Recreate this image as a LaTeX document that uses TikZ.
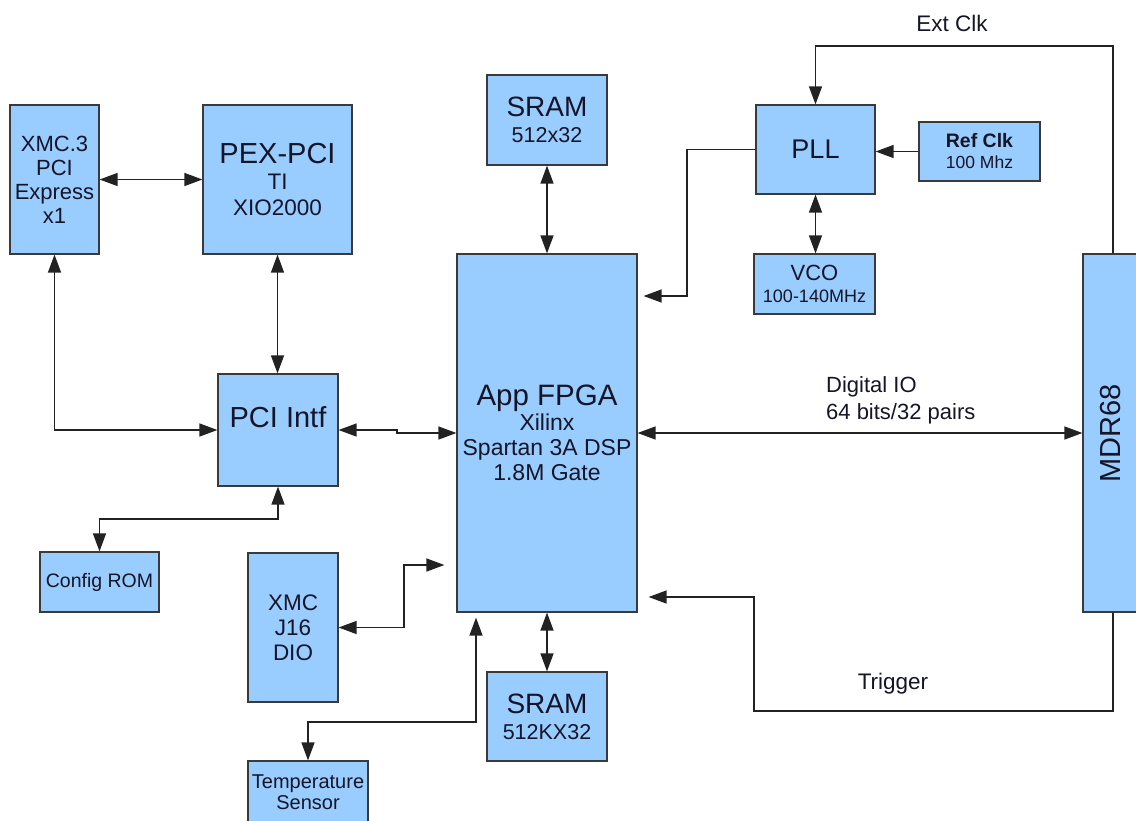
\documentclass[tikz,border=0pt]{standalone}
\usepackage{fontspec}
\setmainfont{Liberation Sans}
\usetikzlibrary{arrows.meta}
\definecolor{boxfill}{HTML}{99CCFF}
\definecolor{boxline}{HTML}{3A3A3A}
\definecolor{wirecol}{HTML}{222222}
\definecolor{ink}{HTML}{151528}
\newcommand\fsz[2]{\fontsize{#1}{#2}\selectfont}
\begin{document}
\begin{tikzpicture}[x=1pt,y=-1pt,
  blk/.style={draw=boxline, fill=boxfill, line width=1.2pt, inner sep=0pt, align=center, text=ink},
  wire/.style={draw=wirecol, line width=1.3pt},
  arr/.style={wire, -{Triangle[length=18pt,width=13pt]}},
  darr/.style={wire, {Triangle[length=18pt,width=13pt]}-{Triangle[length=18pt,width=13pt]}},
  lbl/.style={inner sep=0pt, text=ink, align=center}]
\useasboundingbox (0,0) rectangle (1136,820);
\clip (0,0) rectangle (1136,820);
\fill[white] (0,0) rectangle (1136,820);

% boxes
\node[blk, minimum width=89pt, minimum height=149pt, font=\fsz{22}{24}] (xmc3) at (54.5,179.5) {XMC.3\\PCI\\Express\\x1};
\node[blk, minimum width=149pt, minimum height=149pt, font=\fsz{22.5}{26}] (pex) at (277.5,179.5) {{\fsz{29}{28}PEX-PCI}\\TI\\XIO2000};
\node[blk, minimum width=120pt, minimum height=90pt, font=\fsz{21.5}{26}] (sram1) at (547,120) {{\fsz{28}{27}SRAM}\\512x32};
\node[blk, minimum width=119pt, minimum height=89pt, font=\fsz{27}{26}] (pll) at (815.5,149.5) {PLL};
\node[blk, minimum width=121pt, minimum height=59pt, font=\fsz{17.5}{21}] (refclk) at (979.5,151.5) {{\bfseries\fsz{19.5}{21}Ref Clk}\\100 Mhz};
\node[blk, minimum width=121pt, minimum height=60pt, font=\fsz{18}{22}] (vco) at (814.5,284) {{\fsz{22}{22}VCO}\\100-140MHz};
\node[blk, minimum width=180pt, minimum height=358pt, font=\fsz{23}{25}] (fpga) at (547,433) {{\fsz{29.5}{28}App FPGA}\\Xilinx\\Spartan 3A DSP\\1.8M Gate};
\node[blk, minimum width=60pt, minimum height=358pt] (mdr) at (1113,433) {};
\node[lbl, font=\fsz{29}{28}, rotate=90] (mdrlbl) at (1111,433) {MDR68};
\node[blk, minimum width=120pt, minimum height=112pt] (pciintf) at (278,430) {};
\node[lbl, font=\fsz{29}{28}] (pcilbl) at (278,417) {PCI Intf};
\node[blk, minimum width=119pt, minimum height=60pt, font=\fsz{19.5}{21}] (configrom) at (99.5,582) {Config ROM};
\node[blk, minimum width=90pt, minimum height=149pt, font=\fsz{22.5}{25}] (xmcj16) at (293,627.5) {XMC\\J16\\DIO};
\node[blk, minimum width=120pt, minimum height=62pt, font=\fsz{20}{21}] (temp) at (308,792) {Temperature\\Sensor};
\node[blk, minimum width=120pt, minimum height=89pt, font=\fsz{21.5}{26}] (sram2) at (547,716.5) {{\fsz{28}{27}SRAM}\\512KX32};

% labels
\node[lbl, font=\fsz{22.5}{21}] (extlbl) at (952,23) {Ext Clk};
\node[lbl, font=\fsz{22}{27}, align=left, anchor=west] (diglbl) at (826,400) {Digital IO\\64 bits/32 pairs};
\node[lbl, font=\fsz{22.5}{21}] (trglbl) at (893,684) {Trigger};

% connectors
\draw[darr] (xmc3.east) -- (pex.west);
\draw[darr] (sram1.south) -- (fpga.north);
\draw[darr] (pll.south) -- (pll.south |- vco.north);
\draw[arr] (refclk.west) -- (refclk.west -| pll.east);
\coordinate (ec) at (1113,46);
\draw[arr] (mdr.north) -- (ec) -| (pll.north);
\coordinate (pllc) at (687,296);
\draw[arr, shorten >=6pt] (pll.west) -| (pllc) -- (pllc -| fpga.east);
\draw[darr] (fpga.east) -- (mdr.west);
\coordinate (tr1) at (754,711);
\coordinate (tr2) at (754,597);
\draw[arr, shorten >=11pt] (mdr.south) |- (tr1) -- (tr2) -- (tr2 -| fpga.east);
\draw[darr] (pex.south) -- (pex.south |- pciintf.north);
\draw[darr] (xmc3.south) |- (pciintf.west);
\coordinate (j1) at (397,430);
\coordinate (j2) at (397,433);
\draw[darr] (pciintf.east) -- (j1) -- (j2) -- (fpga.west);
\coordinate (cr) at (278,519);
\draw[darr] (pciintf.south) -- (cr) -| (configrom.north);
\coordinate (xj) at (404,565);
\draw[darr, shorten >=12pt] (xmcj16.east) -| (xj) -- (xj -| fpga.west);
\coordinate (ts2) at (476,722);
\draw[darr, shorten <=5pt] (ts2 |- fpga.south) -- (ts2) -| (temp.north);
\draw[darr] (sram2.north) -- (fpga.south);
\end{tikzpicture}
\end{document}
